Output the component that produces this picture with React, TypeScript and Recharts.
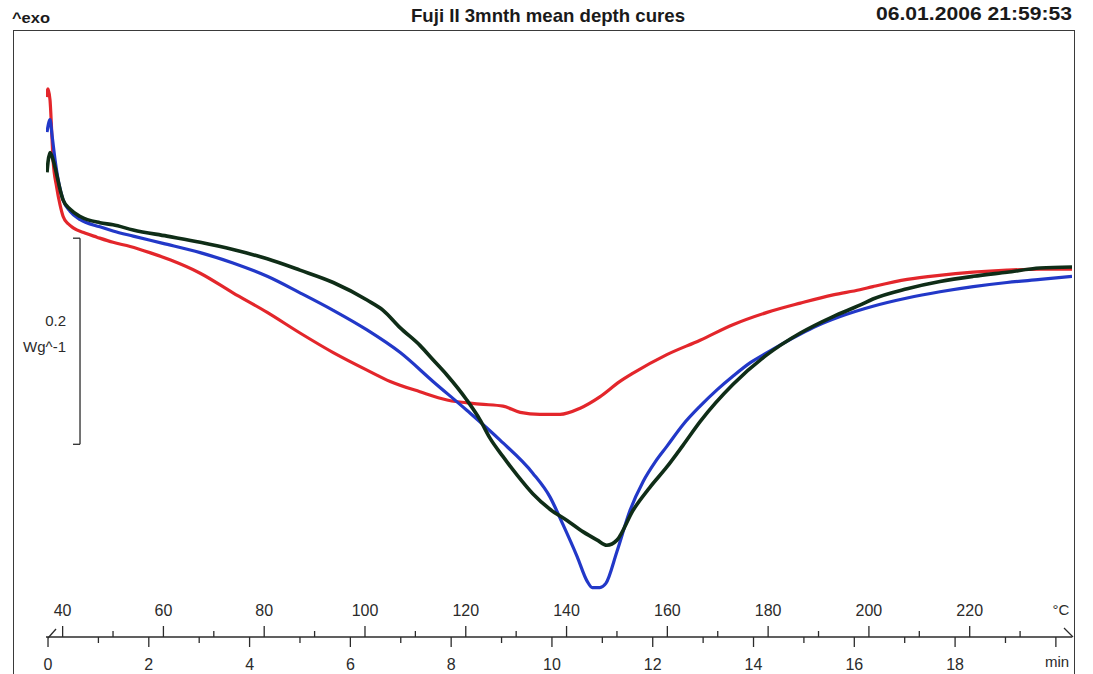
import React from 'react';
import { LineChart, Line, XAxis, YAxis, ReferenceLine } from 'recharts';

// time (min) vs heat flow (W/g, arbitrary baseline)
const redData = [
  { t: -0.03, v: 0.524 }, { t: 0.0, v: 0.532 }, { t: 0.04, v: 0.521 }, { t: 0.08, v: 0.483 },
  { t: 0.1, v: 0.463 }, { t: 0.17, v: 0.437 }, { t: 0.24, v: 0.419 }, { t: 0.3, v: 0.408 },
  { t: 0.4, v: 0.401 }, { t: 0.5, v: 0.397 }, { t: 0.73, v: 0.392 }, { t: 0.97, v: 0.388 },
  { t: 1.29, v: 0.383 }, { t: 1.63, v: 0.379 }, { t: 2.02, v: 0.373 }, { t: 2.42, v: 0.366 },
  { t: 3.02, v: 0.353 }, { t: 3.67, v: 0.334 }, { t: 4.35, v: 0.315 }, { t: 5.0, v: 0.295 },
  { t: 5.66, v: 0.276 }, { t: 6.33, v: 0.259 }, { t: 6.79, v: 0.248 }, { t: 7.38, v: 0.238 },
  { t: 7.92, v: 0.23 }, { t: 8.57, v: 0.226 }, { t: 9.03, v: 0.224 }, { t: 9.37, v: 0.218 },
  { t: 9.76, v: 0.216 }, { t: 10.16, v: 0.216 }, { t: 10.56, v: 0.222 }, { t: 10.95, v: 0.233 },
  { t: 11.35, v: 0.248 }, { t: 11.61, v: 0.256 }, { t: 12.28, v: 0.274 }, { t: 12.94, v: 0.288 },
  { t: 13.59, v: 0.303 }, { t: 14.27, v: 0.315 }, { t: 14.93, v: 0.324 }, { t: 15.58, v: 0.332 },
  { t: 16.11, v: 0.337 }, { t: 16.37, v: 0.34 }, { t: 17.05, v: 0.347 }, { t: 17.69, v: 0.351 },
  { t: 18.36, v: 0.354 }, { t: 19.03, v: 0.356 }, { t: 19.69, v: 0.357 }, { t: 20.32, v: 0.357 },
];

const blueData = [
  { t: -0.02, v: 0.49 }, { t: 0.04, v: 0.502 }, { t: 0.08, v: 0.487 }, { t: 0.14, v: 0.463 },
  { t: 0.22, v: 0.439 }, { t: 0.3, v: 0.424 }, { t: 0.44, v: 0.413 }, { t: 0.64, v: 0.405 },
  { t: 1.03, v: 0.398 }, { t: 1.29, v: 0.394 }, { t: 1.69, v: 0.389 }, { t: 2.28, v: 0.382 },
  { t: 3.02, v: 0.373 }, { t: 3.67, v: 0.363 }, { t: 4.35, v: 0.35 }, { t: 5.0, v: 0.334 },
  { t: 5.66, v: 0.317 }, { t: 6.33, v: 0.298 }, { t: 6.99, v: 0.276 }, { t: 7.64, v: 0.248 },
  { t: 8.31, v: 0.22 }, { t: 8.97, v: 0.191 }, { t: 9.62, v: 0.159 }, { t: 9.96, v: 0.136 },
  { t: 10.22, v: 0.109 }, { t: 10.5, v: 0.078 }, { t: 10.7, v: 0.054 }, { t: 10.8, v: 0.048 },
  { t: 10.95, v: 0.048 }, { t: 11.07, v: 0.052 }, { t: 11.29, v: 0.083 }, { t: 11.55, v: 0.123 },
  { t: 11.81, v: 0.151 }, { t: 12.05, v: 0.17 }, { t: 12.28, v: 0.185 }, { t: 12.6, v: 0.206 },
  { t: 12.94, v: 0.224 }, { t: 13.28, v: 0.24 }, { t: 13.59, v: 0.253 }, { t: 13.93, v: 0.266 },
  { t: 14.27, v: 0.276 }, { t: 14.59, v: 0.285 }, { t: 14.93, v: 0.294 }, { t: 15.26, v: 0.302 },
  { t: 15.72, v: 0.311 }, { t: 16.37, v: 0.321 }, { t: 17.05, v: 0.329 }, { t: 17.7, v: 0.335 },
  { t: 18.36, v: 0.34 }, { t: 19.03, v: 0.344 }, { t: 19.69, v: 0.347 }, { t: 20.32, v: 0.35 },
];

const greenData = [
  { t: -0.02, v: 0.451 }, { t: 0.0, v: 0.461 }, { t: 0.04, v: 0.47 }, { t: 0.1, v: 0.463 },
  { t: 0.18, v: 0.447 }, { t: 0.24, v: 0.434 }, { t: 0.3, v: 0.424 }, { t: 0.44, v: 0.415 },
  { t: 0.64, v: 0.408 }, { t: 1.03, v: 0.402 }, { t: 1.29, v: 0.4 }, { t: 1.69, v: 0.395 },
  { t: 2.36, v: 0.389 }, { t: 3.02, v: 0.383 }, { t: 3.67, v: 0.376 }, { t: 4.35, v: 0.367 },
  { t: 5.0, v: 0.356 }, { t: 5.66, v: 0.344 }, { t: 6.33, v: 0.327 }, { t: 6.65, v: 0.317 },
  { t: 6.99, v: 0.3 }, { t: 7.38, v: 0.283 }, { t: 7.64, v: 0.269 }, { t: 7.92, v: 0.254 },
  { t: 8.31, v: 0.23 }, { t: 8.57, v: 0.211 }, { t: 8.77, v: 0.193 }, { t: 9.03, v: 0.175 },
  { t: 9.31, v: 0.157 }, { t: 9.62, v: 0.139 }, { t: 9.96, v: 0.124 }, { t: 10.3, v: 0.113 },
  { t: 10.62, v: 0.102 }, { t: 10.9, v: 0.094 }, { t: 11.09, v: 0.089 }, { t: 11.29, v: 0.094 },
  { t: 11.61, v: 0.123 }, { t: 11.94, v: 0.145 }, { t: 12.28, v: 0.165 }, { t: 12.6, v: 0.186 },
  { t: 12.94, v: 0.209 }, { t: 13.59, v: 0.245 }, { t: 14.27, v: 0.274 }, { t: 14.93, v: 0.295 },
  { t: 15.58, v: 0.311 }, { t: 16.11, v: 0.322 }, { t: 16.37, v: 0.328 }, { t: 17.05, v: 0.338 },
  { t: 17.7, v: 0.345 }, { t: 18.36, v: 0.35 }, { t: 19.03, v: 0.354 }, { t: 19.69, v: 0.358 },
  { t: 20.32, v: 0.359 },
];

const minuteTicks = [0, 1, 2, 3, 4, 5, 6, 7, 8, 9, 10, 11, 12, 13, 14, 15, 16, 17, 18, 19, 20];
const minuteLabels = [0, 2, 4, 6, 8, 10, 12, 14, 16, 18];
const tempTicks = [40, 50, 60, 70, 80, 90, 100, 110, 120, 130, 140, 150, 160, 170, 180, 190, 200, 210, 220, 230];
const tempLabels = [40, 60, 80, 100, 120, 140, 160, 180, 200, 220];
const TEMP_AT_START = 37.1; // °C at 0 min
const HEATING_RATE = 10; // K/min
const X_MIN = -0.04;
const X_END = 20.32;
const Y_DOMAIN: [number, number] = [0, 0.59];

// scale bar (0.2 W/g)
const scaleBarTop = 0.387;
const scaleBarSize = 0.2;
const scaleBarX = 0.635;
const scaleBarTickX = 0.496;

const tempToMin = (T: number) => (T - TEMP_AT_START) / HEATING_RATE;
const allTicks = [...minuteTicks, ...tempTicks.map(tempToMin), X_END];

const INK = '#2b2b2b';
const TICK_FONT = '"Liberation Sans", Arial, sans-serif';

const AxisTick = (props: any) => {
  const { x, y, payload } = props;
  const val = payload.value as number;
  if (Math.abs(val - X_END) < 1e-6) {
    return (
      <g>
        <polyline points={`${x - 8},${y - 9} ${x + 1},${y} `} fill="none" stroke={INK} strokeWidth={1.3} />
        <text x={x - 11} y={y - 22} fontSize={15} fontFamily={TICK_FONT} fill={INK} textAnchor="middle">°C</text>
        <text x={x - 15} y={y + 30} fontSize={15} fontFamily={TICK_FONT} fill={INK} textAnchor="middle">min</text>
      </g>
    );
  }
  const isMinute = minuteTicks.some((m) => Math.abs(m - val) < 1e-6);
  if (isMinute) {
    const m = Math.round(val);
    const major = m % 2 === 0;
    const labelled = minuteLabels.includes(m);
    return (
      <g>
        <line x1={x} y1={y} x2={x} y2={y + (major ? 10 : 6)} stroke={INK} strokeWidth={1.3} />
        {m === 0 && <line x1={x} y1={y + 1} x2={x + 8} y2={y - 8} stroke={INK} strokeWidth={1.3} />}
        {labelled && (
          <text x={x} y={y + 33} fontSize={16} fontFamily={TICK_FONT} fill={INK} textAnchor="middle">{m}</text>
        )}
      </g>
    );
  }
  const T = tempTicks.find((tt) => Math.abs(tempToMin(tt) - val) < 1e-6);
  if (T === undefined) return <g />;
  const major = T % 20 === 0;
  return (
    <g>
      <line x1={x} y1={y} x2={x} y2={y - (major ? 11 : 6)} stroke={INK} strokeWidth={1.3} />
      {tempLabels.includes(T) && (
        <text x={x} y={y - 21} fontSize={16} fontFamily={TICK_FONT} fill={INK} textAnchor="middle">{T}</text>
      )}
    </g>
  );
};

const HEAD_FONT = '"Liberation Sans Narrow", "Arial Narrow", "Liberation Sans", Arial, sans-serif';

export default function App() {
  return (
    <div style={{ position: 'absolute', left: 0, top: 0, width: 1093, height: 674, background: '#fff', overflow: 'hidden' }}>
      <div
        style={{
          position: 'absolute', left: 13, top: 30, width: 1060, height: 700,
          borderLeft: '1.6px solid #3a3a3a', borderTop: '1.6px solid #3a3a3a', borderRight: '1.6px solid #3a3a3a',
        }}
      />
      <div style={{ position: 'absolute', left: 0, top: 0 }}>
        <LineChart width={1093} height={674} margin={{ top: 29, left: 46, right: 21, bottom: 7 }}>
          <XAxis
            dataKey="t"
            type="number"
            domain={[X_MIN, X_END]}
            allowDataOverflow
            ticks={allTicks}
            interval={0}
            height={30}
            tickSize={0}
            tickMargin={0}
            tickLine={false}
            axisLine={{ stroke: INK, strokeWidth: 1.3 }}
            tick={<AxisTick />}
          />
          <YAxis type="number" domain={Y_DOMAIN} hide allowDataOverflow />
          <ReferenceLine
            segment={[{ x: scaleBarX, y: scaleBarTop }, { x: scaleBarX, y: scaleBarTop - scaleBarSize }]}
            stroke={INK}
            strokeWidth={1.3}
          />
          <ReferenceLine
            segment={[{ x: scaleBarTickX, y: scaleBarTop }, { x: scaleBarX, y: scaleBarTop }]}
            stroke={INK}
            strokeWidth={1.3}
          />
          <ReferenceLine
            segment={[{ x: scaleBarTickX, y: scaleBarTop - scaleBarSize }, { x: scaleBarX, y: scaleBarTop - scaleBarSize }]}
            stroke={INK}
            strokeWidth={1.3}
          />
          <Line data={redData} dataKey="v" type="monotone" stroke="#e3262b" strokeWidth={3.2} dot={false} isAnimationActive={false} />
          <Line data={blueData} dataKey="v" type="monotone" stroke="#2238c8" strokeWidth={3.2} dot={false} isAnimationActive={false} />
          <Line data={greenData} dataKey="v" type="monotone" stroke="#0f2d17" strokeWidth={3.6} dot={false} isAnimationActive={false} />
        </LineChart>
      </div>
      <svg width={1093} height={674} style={{ position: 'absolute', left: 0, top: 0, pointerEvents: 'none' }}>
        <text x={12} y={23} fontSize={15} fontWeight="bold" fontFamily={HEAD_FONT} fill="#1a1a1a" textLength={38} lengthAdjust="spacingAndGlyphs">^exo</text>
        <text x={411} y={22} fontSize={19} fontWeight="bold" fontFamily={HEAD_FONT} fill="#1a1a1a" textLength={274} lengthAdjust="spacingAndGlyphs">Fuji II 3mnth mean depth cures</text>
        <text x={876} y={20} fontSize={19} fontWeight="bold" fontFamily={HEAD_FONT} fill="#1a1a1a" textLength={196} lengthAdjust="spacingAndGlyphs">06.01.2006 21:59:53</text>
        <text x={66} y={326} fontSize={15} fontFamily={TICK_FONT} fill={INK} textAnchor="end">0.2</text>
        <text x={66} y={352} fontSize={15} fontFamily={TICK_FONT} fill={INK} textAnchor="end">Wg^-1</text>
      </svg>
    </div>
  );
}
